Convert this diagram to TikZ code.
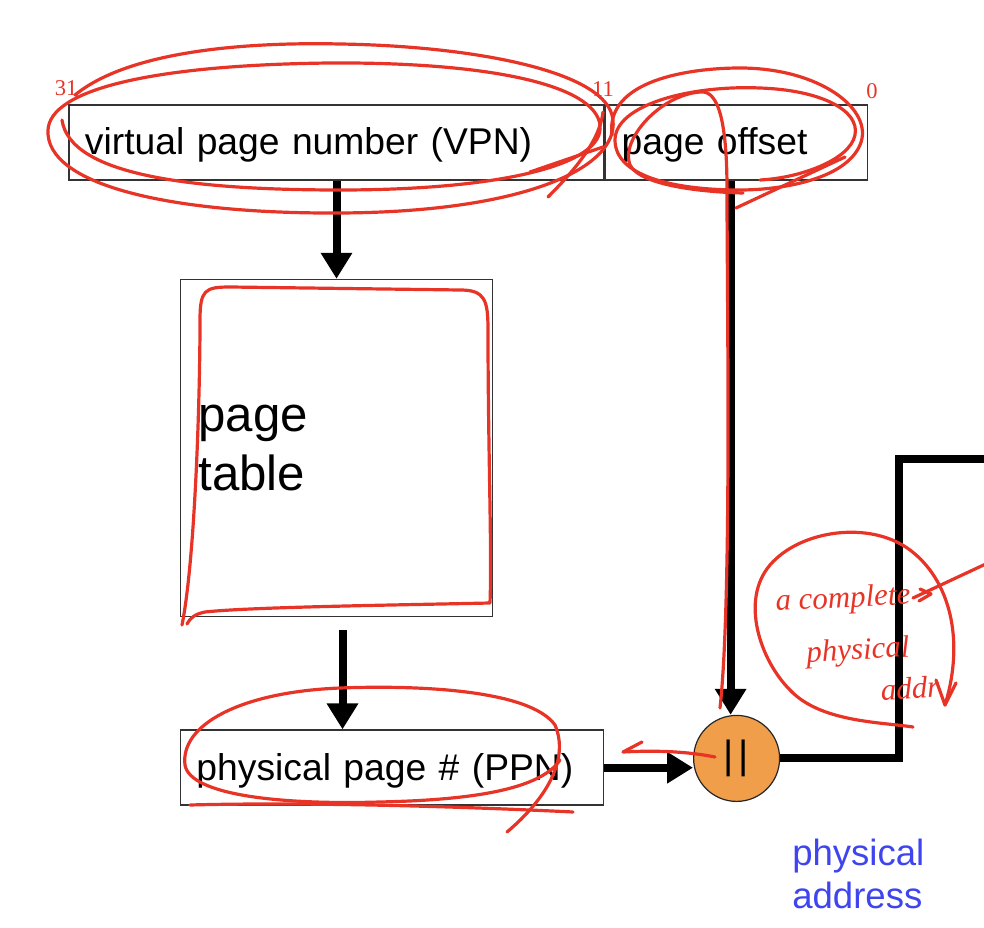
\documentclass[tikz,border=0pt]{standalone}
\usepackage{fontspec}
\setmainfont{Liberation Sans}
\newfontfamily\handfont{Liberation Serif}
\usetikzlibrary{arrows.meta,positioning}
\definecolor{inkred}{RGB}{232,52,38}
\definecolor{catorange}{RGB}{240,158,74}
\definecolor{addrblue}{RGB}{62,68,238}
\tikzset{
  >={Triangle[length=6.5mm,width=7.5mm]},
  field/.style={draw=black!80, line width=0.4mm, minimum height=18.75mm, inner ysep=0pt, inner xsep=4mm, text height=6.25mm, text depth=0pt, align=left, font=\fontsize{26.5}{32}\selectfont},
  tablebox/.style={draw=black!80, line width=0.4mm, inner xsep=4.5mm, align=left, font=\fontsize{35}{42.5}\selectfont},
  catnode/.style={circle, draw=black!85, line width=0.3mm, fill=catorange, minimum size=21.5mm, inner sep=0pt, font=\fontsize{28}{32}\selectfont},
  wire/.style={line width=2mm},
  ink/.style={draw=inkred, line width=0.8mm, line cap=round, line join=round},
  inktext/.style={text=inkred, font=\handfont\itshape\fontsize{22}{24}\selectfont},
  inknum/.style={text=inkred, font=\handfont\fontsize{16}{18}\selectfont, inner sep=0pt},
}
\begin{document}
\begin{tikzpicture}[x=0.25mm, y=-0.25mm]
  \useasboundingbox (0,0) rectangle (984,928);

  \node[field, text width=125.75mm] (vpn) at (336.5,142.5) {virtual page number (VPN)};
  \node[field, text width=57.5mm, right=0pt of vpn] (offset) {page offset};
  \node[tablebox, text width=69mm, minimum height=84.25mm, below=24.5mm of vpn] (ptable) {page\\table};
  \node[field, text width=97.75mm, below=28mm of ptable.south west, anchor=north west] (ppn) {physical page \# (PPN)};
  \node[catnode, below=133.5mm of offset] (cat) {|\hspace{1.2mm}|};
  \node[text=addrblue, align=left, inner sep=0pt, anchor=north west, font=\fontsize{26}{30.5}\selectfont] (paddr) at (792,839) {physical\\address};

  \coordinate (ptout) at ([xshift=1.5mm, yshift=-3.25mm]ptable.south);
  \coordinate (bus) at (1000,459);

  \draw[wire, ->] (vpn) -- (ptable);
  \draw[wire, ->] (ptout) -- (ptout |- ppn.north);
  \draw[wire, ->] (ppn) -- (ppn -| cat.west);
  \draw[wire, ->] ([xshift=-1.5mm]offset.south) -- ([xshift=-1.5mm]cat.north);
  \draw[wire] (cat.east) -- ++(29.75mm,0) |- (bus);

  % red pen notes
  \node[inknum] (n31) at (66,88) {31};
  \node[inknum] (n11) at (603,89) {11};
  \node[inknum] (n0) at (872,91) {0};
  \draw[ink] (75,95) .. controls (130,50) and (250,42) .. (340,44) .. controls (470,46) and (600,70) .. (612,115)
    .. controls (625,165) and (530,212) .. (340,213) .. controls (170,214) and (45,185) .. (48,130)
    .. controls (50,90) and (150,65) .. (330,63) .. controls (490,62) and (595,85) .. (600,125)
    .. controls (605,165) and (500,190) .. (340,190) .. controls (190,190) and (70,175) .. (62,120);
  \draw[ink] (530,172) -- (603,147);
  \draw[ink] (548,197) .. controls (575,170) and (600,140) .. (603,112);
  \draw[ink] (612,135) .. controls (605,80) and (690,68) .. (740,68) .. controls (820,68) and (875,110) .. (860,145)
    .. controls (845,180) and (780,190) .. (740,190) .. controls (670,190) and (615,175) .. (615,140)
    .. controls (615,105) and (690,85) .. (760,88) .. controls (820,90) and (860,110) .. (855,135)
    .. controls (850,160) and (800,178) .. (760,180);
  \draw[ink] (720,708) .. controls (732,600) and (727,300) .. (727,190) .. controls (727,110) and (715,90) .. (700,92)
    .. controls (660,95) and (620,140) .. (630,165) .. controls (640,185) and (700,192) .. (743,193);
  \draw[ink] (736,208) -- (845,157);
  \draw[ink] (182,625) .. controls (195,560) and (200,400) .. (200,320) .. controls (200,290) and (205,287) .. (230,287)
    -- (460,290) .. controls (485,290) and (488,300) .. (488,330) .. controls (488,450) and (492,550) .. (490,603)
    .. controls (400,605) and (250,607) .. (205,612) .. controls (195,614) and (190,618) .. (187,624);
  \draw[ink] (507,832) .. controls (545,800) and (570,760) .. (555,725) .. controls (530,690) and (420,685) .. (340,688)
    .. controls (240,692) and (180,725) .. (185,765) .. controls (190,795) and (280,805) .. (380,802)
    .. controls (470,800) and (540,790) .. (560,760);
  \draw[ink] (190,805) .. controls (300,802) and (450,806) .. (573,812);
  \draw[ink] (642,742) -- (623,752) .. controls (660,750) and (690,752) .. (715,757);
  \draw[ink] (913,727) .. controls (880,722) and (820,722) .. (790,690) .. controls (760,660) and (740,600) .. (770,565)
    .. controls (800,530) and (870,520) .. (910,550) .. controls (950,580) and (965,640) .. (945,705);
  \draw[ink] (936,680) -- (945,705) -- (956,683);
  \draw[ink] (913,598) -- (990,562);
  \draw[ink] (920,589) -- (931,594) -- (919,601);
  \node[inktext, rotate=3] (note1) at (843,600) {a complete};
  \node[inktext, rotate=3] (note2) at (858,652) {physical};
  \node[inktext, rotate=3] (note3) at (910,688) {addr};
\end{tikzpicture}
\end{document}
